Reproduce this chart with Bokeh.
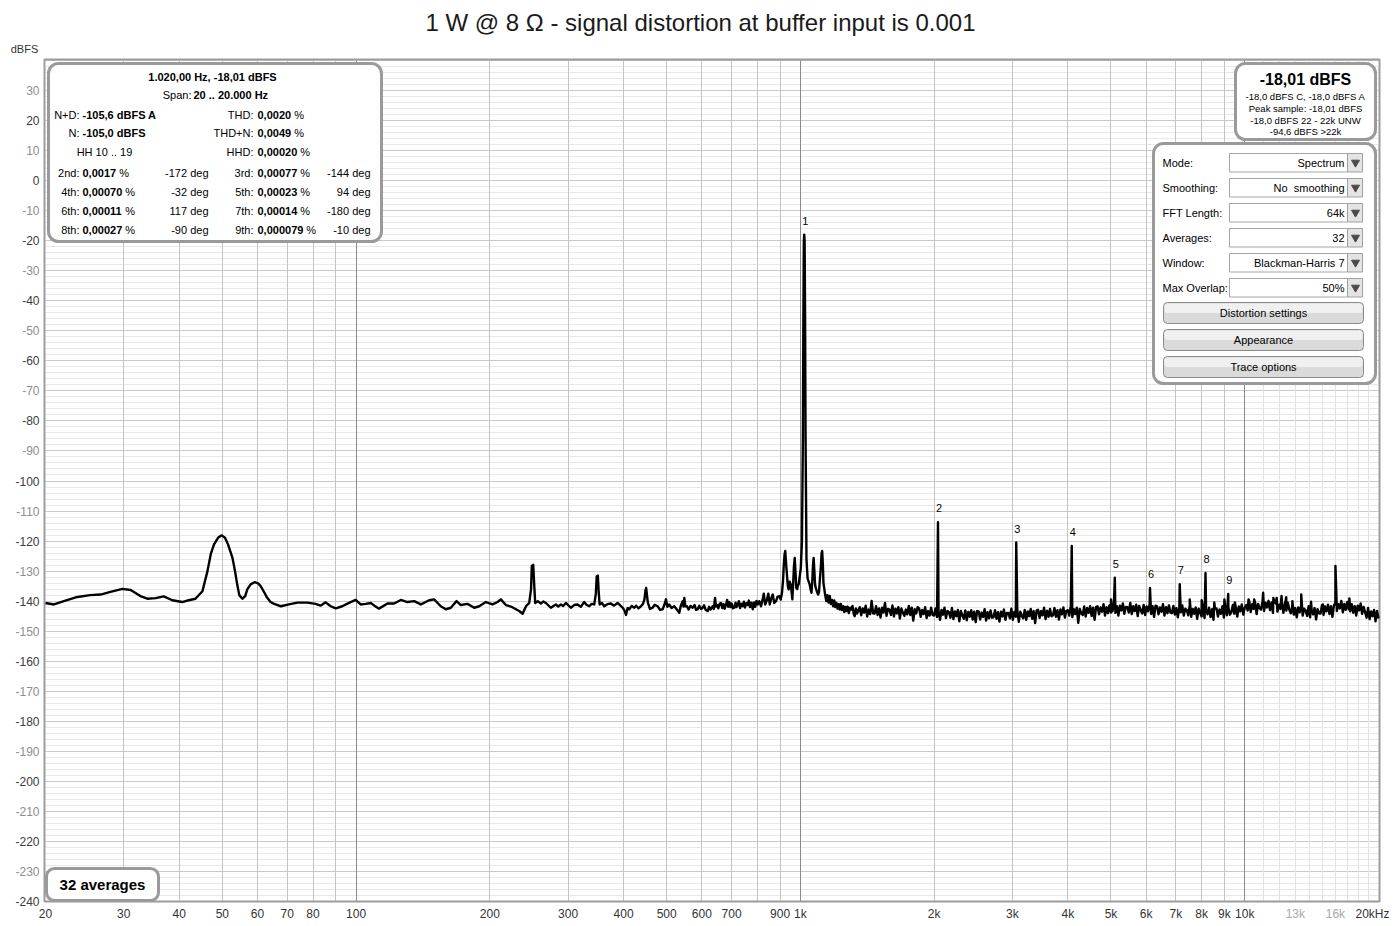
import numpy as np
from bokeh.plotting import figure
from bokeh.models import Range1d, LinearScale, Grid, FixedTicker, Label, BoxAnnotation
from bokeh.embed import file_html
from bokeh.resources import INLINE

TITLE = "1 W @ 8 \u03a9 - signal distortion at buffer input is 0.001"

# ---------------- trace data (Hz, dBFS) ----------------
LF_FREQ = [20.0, 20.9, 22.0, 23.6, 25.2, 26.6, 28.0, 29.8, 31.1, 32.7, 33.9, 35.4, 36.9, 38.6,
           40.6, 42.0, 43.5, 45.1, 46.3, 47.1, 47.9, 48.9, 49.8, 50.7, 51.5, 52.7, 53.4, 54.0,
           54.6, 55.5, 56.3, 56.9, 57.9, 59.1, 60.2, 61.0, 62.2, 63.1, 64.2, 65.4, 67.7, 70.6,
           73.8, 77.7, 81.1, 83.2, 85.4, 87.7, 90.0, 93.1, 96.4, 99.8, 102.4, 105.1, 107.9]
LF_LEVEL = [-140.6, -141.1, -140.0, -138.6, -138.0, -137.8, -136.9, -135.9, -136.3, -138.3,
            -139.2, -139.0, -138.4, -139.7, -140.3, -139.7, -139.2, -136.7, -130.0, -124.3,
            -121.1, -118.9, -118.1, -118.9, -121.1, -125.6, -130.0, -134.4, -138.0, -139.2,
            -138.3, -136.1, -134.4, -133.7, -134.1, -135.0, -137.2, -138.9, -140.3, -140.9,
            -141.7, -141.1, -140.5, -140.5, -140.9, -141.5, -140.4, -141.7, -142.4, -141.7,
            -140.6, -139.6, -141.1, -140.9, -140.6]

MID_FREQ = [110.0, 112.6, 117.7, 121.8, 126.1, 130.5, 135.1, 139.9, 146.1, 149.8, 155.1, 159.2,
            163.4, 168.3, 172.1, 178.2, 184.4, 189.3, 195.9, 202.8, 208.1, 211.8, 217.3, 223.1,
            229.0, 232.9, 237.0, 241.2, 245.3, 247.6, 248.6, 250.4, 251.6, 253.0, 256.5, 260.6,
            264.0, 267.3, 274.4, 281.6, 285.0, 289.1, 292.5, 296.6, 304.4, 309.5, 315.1, 320.5,
            326.1, 330.0, 334.8, 339.0, 343.6, 346.4, 348.0, 350.0, 351.6, 353.3, 357.5, 361.9,
            367.5, 374.6, 380.5, 387.9, 393.0, 398.1, 401.5, 405.0, 408.5, 412.0, 417.0, 422.7,
            427.0, 432.0, 437.7, 442.0, 445.6, 448.0, 449.6, 451.5, 453.6, 458.5, 464.9, 470.0,
            477.1, 483.0, 489.7, 494.0, 498.2, 502.0, 506.7, 513.0, 520.1, 526.0, 533.8, 538.0,
            543.3, 545.5, 547.9, 551.0, 555.6, 560.0, 566.0, 572.2, 578.0, 582.5, 587.3, 592.0,
            597.5, 602.7, 607.0, 612.0, 618.5, 623.0, 628.0, 634.8, 638.5, 642.5, 645.5, 649.2,
            653.5, 658.0, 662.8, 667.0, 671.0, 675.5, 680.2, 684.0, 688.0, 692.0, 696.0, 700.5,
            705.0, 710.2, 714.5, 718.5, 722.8, 727.0, 731.5, 736.5, 741.7, 746.0, 750.5, 755.5,
            761.2, 765.5, 770.0, 775.5, 781.2, 786.0, 791.5, 796.5, 801.7, 808.0, 815.5, 822.0,
            827.0, 833.0, 840.0, 846.9, 853.0, 860.0, 866.5, 873.0, 881.3, 888.0, 896.7, 903.0,
            909.0, 914.0, 917.5, 921.0, 924.5, 928.0, 932.5, 937.0, 941.0, 946.0, 951.0, 955.5,
            959.0, 963.0, 967.0, 971.0, 975.0, 979.0, 983.5, 987.0, 991.0, 996.0, 1002.0, 1008.0,
            1013.0, 1015.5, 1018.0, 1020.0, 1022.0, 1024.5, 1027.0, 1032.0, 1038.0, 1044.0,
            1049.0, 1054.0,
            1059.0, 1063.5, 1067.5, 1071.0, 1075.0, 1079.0, 1083.0, 1089.0, 1096.0, 1101.0,
            1105.5, 1112.5, 1116.0, 1119.5, 1123.5, 1127.0, 1131.0, 1137.0, 1144.0, 1150.0,
            1157.0, 1164.0, 1171.0, 1178.0, 1185.0, 1192.0, 1198.0, 1205.0, 1212.0, 1219.0,
            1226.0, 1233.0, 1240.0, 1248.0, 1255.0, 1262.0, 1269.0, 1277.0, 1285.0, 1294.0,
            1303.0, 1310.0, 1318.0, 1325.0, 1333.0, 1341.0, 1349.0]
MID_LEVEL = [-141.5, -142.5, -140.8, -140.8, -139.6, -140.3, -140.0, -141.1, -139.7, -139.4,
             -141.7, -142.7, -142.2, -140.0, -141.3, -140.9, -142.2, -141.7, -140.3, -141.1,
             -140.3, -139.4, -141.3, -141.8, -142.7, -143.3, -144.2, -141.7, -140.6, -136.0,
             -128.3, -127.9, -134.0, -140.6, -140.0, -140.8, -140.1, -140.6, -142.2, -141.1,
             -141.8, -141.1, -141.6, -140.6, -142.2, -141.3, -141.1, -141.9, -140.3, -141.2,
             -141.7, -140.9, -141.1, -137.5, -131.8, -131.5, -137.0, -141.1, -140.6, -141.7,
             -141.0, -140.8, -141.5, -140.6, -141.4, -142.2, -143.0, -144.6, -142.3, -142.7,
             -141.6, -142.2, -141.5, -142.4, -141.7, -141.0, -139.5, -136.5, -135.6, -138.0,
             -140.5, -142.6, -142.2, -141.2, -141.7, -142.9, -142.7, -141.3, -139.4, -141.9,
             -141.1, -142.3, -141.7, -142.6, -143.9, -141.5, -140.0, -141.8, -138.9, -141.7,
             -141.7, -142.8, -141.6, -142.2, -141.3, -142.9, -142.7, -141.5, -142.6, -142.2,
             -141.4, -142.9, -143.3, -141.9, -142.8, -141.7, -142.6, -138.9, -141.8, -141.3,
             -142.4, -140.9, -140.6, -142.3, -141.0, -142.5, -141.1, -139.6, -141.9, -140.3,
             -142.0, -140.8, -142.4, -142.2, -140.5, -142.0, -141.1, -140.0, -142.3, -140.9,
             -141.7, -140.2, -142.1, -140.7, -141.3, -139.8, -142.0, -140.5, -142.7, -140.4,
             -141.9, -139.9, -141.1, -140.0, -141.7, -139.5, -137.5, -141.1, -139.8, -137.5,
             -141.1, -139.0, -137.8, -140.6, -140.0, -138.6, -138.3, -139.5, -137.2, -133.0,
             -128.0, -124.5, -123.3, -127.0, -131.1, -135.0, -136.1, -133.5, -134.4, -137.0,
             -139.4, -134.5, -128.5, -125.6, -130.5, -135.6, -136.0, -134.8, -134.4, -132.0,
             -129.0, -120.0, -85.0, -45.0, -20.0, -18.0, -20.0, -45.0, -85.0, -126.0,
             -132.5, -133.5,
             -134.4, -136.0, -137.2, -133.5, -128.0, -125.6, -130.0, -134.5, -135.6, -136.8,
             -137.8, -137.0, -133.3, -128.0, -124.0, -123.3, -128.0, -134.0, -135.6, -138.0,
             -140.0, -138.0, -140.5, -138.3, -141.0, -139.6, -141.7, -139.8, -142.0, -140.6,
             -142.5, -141.0, -142.8, -140.9, -143.0, -141.7, -143.6, -141.9, -143.3, -141.8,
             -144.0, -142.2, -142.8, -141.6, -144.2, -145.0, -142.4, -144.1, -143.3]

HF_START, HF_STOP = 1360.0, 20000.0
HF_LEVEL = [
    -142.0, -144.7, -142.4, -143.8, -141.5, -145.1, -142.8, -144.3, -139.9, -144.1,
    -144.1, -141.7, -144.6, -142.4, -145.5, -142.2, -143.8, -140.6, -144.9, -142.6,
    -142.8, -144.6, -141.4, -145.1, -142.5, -144.1, -142.0, -145.8, -142.4, -143.8,
    -144.9, -142.8, -144.4, -141.6, -144.6, -142.2, -146.5, -142.7, -144.1, -142.0,
    -142.5, -145.2, -142.9, -144.3, -142.0, -145.6, -143.3, -144.8, -142.2, -144.6,
    -144.8, -142.4, -145.3, -143.1, -146.2, -142.9, -144.5, -142.2, -145.6, -143.3,
    -143.7, -145.5, -142.3, -146.0, -143.4, -145.0, -142.9, -146.7, -143.3, -144.7,
    -145.9, -143.1, -146.4, -143.6, -145.2, -143.0, -146.1, -143.5, -147.0, -143.3,
    -143.4, -146.1, -143.8, -145.2, -142.7, -146.5, -143.7, -145.7, -143.1, -145.5,
    -145.4, -143.0, -145.9, -143.7, -146.8, -143.5, -145.1, -142.8, -146.2, -143.9,
    -143.9, -145.7, -142.5, -146.2, -143.6, -145.2, -143.1, -146.9, -143.5, -144.9,
    -145.7, -142.9, -146.2, -143.4, -145.0, -142.6, -145.9, -143.3, -147.3, -143.1,
    -142.9, -145.6, -143.3, -144.7, -142.2, -146.0, -143.2, -145.2, -142.6, -145.0,
    -144.7, -142.3, -145.2, -143.0, -146.1, -142.8, -144.4, -142.1, -145.5, -143.2,
    -143.0, -144.8, -141.6, -145.3, -142.7, -144.3, -142.2, -147.2, -142.6, -144.0,
    -144.6, -141.8, -145.1, -142.3, -143.9, -141.7, -145.0, -142.2, -146.2, -142.0,
    -141.7, -144.4, -142.1, -143.5, -141.0, -144.8, -142.0, -144.0, -141.4, -143.8,
    -143.4, -141.0, -143.9, -141.7, -144.8, -141.5, -143.1, -140.8, -144.2, -141.9,
    -142.0, -143.8, -140.6, -144.3, -141.7, -143.3, -141.2, -145.0, -141.6, -143.0,
    -144.1, -141.3, -144.6, -141.8, -143.4, -141.2, -144.3, -141.7, -145.2, -141.5,
    -141.7, -144.4, -142.1, -143.5, -141.0, -144.8, -142.0, -144.0, -141.4, -143.8,
    -144.0, -141.6, -144.5, -142.3, -145.4, -142.1, -143.7, -141.4, -144.8, -142.5,
    -142.9, -144.7, -141.5, -145.2, -142.6, -144.2, -142.1, -145.9, -142.5, -143.9,
    -145.1, -142.3, -145.6, -142.8, -144.4, -142.2, -145.3, -142.7, -146.2, -142.5,
    -142.4, -145.1, -142.8, -144.2, -141.7, -145.5, -142.7, -144.7, -142.1, -144.5,
    -143.7, -141.3, -144.2, -142.0, -145.1, -141.8, -143.4, -141.1, -144.5, -142.2,
    -141.3, -143.1, -139.9, -143.6, -141.0, -142.6, -140.5, -144.3, -140.9, -142.3,
    -142.8, -140.0, -143.3, -140.5, -142.1, -139.9, -143.0, -140.4, -143.9, -140.2,
    -140.8, -143.5, -141.2, -142.6, -140.1, -143.9, -141.1, -143.1, -140.5, -142.9,
    -144.0, -141.6, -144.5, -142.3, -145.4, -142.1, -143.7, -141.4, -144.8, -142.5,
    -143.1, -144.9, -141.7, -145.4, -142.8, -144.4, -142.3, -146.1, -142.7, -144.1,
    -144.1, -141.3, -144.6, -141.8, -143.4, -141.2, -144.3, -141.7, -145.2, -141.5,
    -140.6, -143.3, -141.0, -142.4, -139.9, -143.7, -140.9, -142.9, -140.3, -142.7,
    -143.4, -141.0, -143.9, -141.7, -144.8, -141.5, -143.1, -140.8, -144.2, -141.9,
    -143.7, -145.5, -142.3, -146.0, -143.4, -145.0, -142.9, -146.7, -143.3, -145.8,
]

HARM_FREQ = [2040, 3060, 4080, 5100, 6120, 7140, 8160, 9180]
HARM_LEVEL = [-113.7, -120.5, -121.6, -132.2, -135.6, -134.4, -130.6, -137.6]
SPUR_FREQ = [5000, 7520, 8000, 8540, 9000, 9500, 10200, 10500, 11000, 11600, 11800, 12100,
             12400, 12800, 13400, 14100, 15000, 16000, 17200]
SPUR_LEVEL = [-139.4, -139.4, -139.7, -140.4, -139.4, -140.4, -139.4, -139.4, -137.2, -138.9,
              -138.9, -138.3, -138.7, -140.0, -137.8, -140.2, -141.1, -128.3, -139.1]
FUND_FREQ, FUND_LEVEL = 1020, -18.0

# ---------------- axis labels ----------------
F_MIN, F_MAX = 20, 20000
DB_MIN, DB_MAX = -240, 40
Y_TICKS = list(range(30, -250, -10))
X_TICK_FREQ = [20, 30, 40, 50, 60, 70, 80, 100, 200, 300, 400, 500, 600, 700, 900, 1000,
               2000, 3000, 4000, 5000, 6000, 7000, 8000, 9000, 10000, 13000, 16000, 20000]
X_TICK_TEXT = ["20", "30", "40", "50", "60", "70", "80", "100", "200", "300", "400", "500",
               "600", "700", "900", "1k", "2k", "3k", "4k", "5k", "6k", "7k", "8k", "9k", "10k",
               "13k", "16k", "20kHz"]
GRID_NORMAL = [30, 40, 50, 60, 70, 80, 90, 200, 300, 400, 500, 600, 700, 800, 900,
               2000, 3000, 4000, 5000, 6000, 7000, 8000, 9000]
GRID_DECADE = [100, 1000, 10000]
GRID_MINOR = [11000, 12000, 13000, 14000, 15000, 16000, 17000, 18000, 19000]

# ---------------- panel texts ----------------
STATS_HEAD = "1.020,00 Hz, -18,01 dBFS"
SPAN_LABEL, SPAN_VALUE = "Span:", "20 .. 20.000 Hz"
STATS_LEFT = [("N+D:", "-105,6 dBFS A"), ("N:", "-105,0 dBFS")]
STATS_RIGHT = [("THD:", "0,0020"), ("THD+N:", "0,0049"), ("HHD:", "0,00020")]
HARM_ROWS = [("2nd:", "0,0017", "-172 deg", "3rd:", "0,00077", "-144 deg"),
             ("4th:", "0,00070", "-32 deg", "5th:", "0,00023", "94 deg"),
             ("6th:", "0,00011", "117 deg", "7th:", "0,00014", "-180 deg"),
             ("8th:", "0,00027", "-90 deg", "9th:", "0,000079", "-10 deg")]
LEVEL_HEAD = "-18,01 dBFS"
LEVEL_LINES = ["-18,0 dBFS C, -18,0 dBFS A", "Peak sample: -18,01 dBFS",
               "-18,0 dBFS 22 - 22k UNW", "-94,6 dBFS >22k"]
CTRL_LABELS = ["Mode:", "Smoothing:", "FFT Length:", "Averages:", "Window:", "Max Overlap:"]
CTRL_VALUES = ["Spectrum", "No\u00a0 smoothing", "64k", "32", "Blackman-Harris 7", "50%"]
BUTTONS = ["Distortion settings", "Appearance", "Trace options"]
AVG_TEXT = "32 averages"

FONT = "Liberation Sans"

# ---------------- layout (canvas pixels) ----------------
W, H = 1400, 926
PL, PR, PT, PB = 45, 1378, 60, 901          # plot area edges
lg_per_px = (np.log10(F_MAX) - np.log10(F_MIN)) / (PR - PL)
db_per_px = (DB_MAX - DB_MIN) / (PB - PT)
x_lo = 10 ** (np.log10(F_MIN) - PL * lg_per_px)
x_hi = 10 ** (np.log10(F_MAX) + (W - PR) * lg_per_px)
y_hi = DB_MAX + PT * db_per_px
y_lo = DB_MIN - (H - PB) * db_per_px

p = figure(width=W, height=H, x_axis_type="log", x_range=Range1d(x_lo, x_hi),
           y_range=Range1d(y_lo, y_hi), output_backend="svg", toolbar_location=None,
           x_axis_location=None, y_axis_location=None,
           min_border_left=0, min_border_right=0, min_border_top=0, min_border_bottom=0,
           background_fill_color="white", border_fill_color="white")
p.outline_line_color = None
p.extra_x_ranges = {"px": Range1d(0, W)}
p.extra_y_ranges = {"px": Range1d(H, 0)}
p.extra_x_scales = {"px": LinearScale()}
p.extra_y_scales = {"px": LinearScale()}


def grid(dim, ticks, color, width=1):
    cb = (DB_MIN, DB_MAX) if dim == 0 else (F_MIN, F_MAX)
    p.add_layout(Grid(dimension=dim, ticker=FixedTicker(ticks=ticks), grid_line_color=color,
                      grid_line_width=width, cross_bounds=cb))


grid(1, [v for v in range(DB_MIN, DB_MAX + 1, 2) if v % 10 != 0], "#e9e9e9")
grid(1, list(range(DB_MIN, DB_MAX + 1, 10)), "#cacaca")
grid(0, GRID_MINOR, "#e2e2e2")
grid(0, GRID_NORMAL, "#c4c4c4")
grid(0, GRID_DECADE, "#8a8a8a")


def box(l, r, t, b, radius=0, lw=1, lc="#9a9a9a", fc="white", fa=1.0):
    p.add_layout(BoxAnnotation(left=l, right=r, top=t, bottom=b, x_range_name="px",
                               y_range_name="px", border_radius=radius, line_color=lc,
                               line_width=lw, line_alpha=1 if lc else 0, fill_color=fc,
                               fill_alpha=fa, level="underlay"))


def txt(x, y, s, size="11px", bold=False, align="left", color="#000000", xr="px", yr="px",
        **kw):
    p.add_layout(Label(x=x, y=y, text=s, x_range_name=xr, y_range_name=yr, text_font=FONT,
                       text_font_size=size, text_font_style="bold" if bold else "normal",
                       text_align=align, text_baseline="middle", text_color=color, **kw))


def bold_width(s, size=11):
    return sum(0.278 if c in ",. " else 0.556 for c in s) * size


# white margins around the plot area (hide grid lines outside it)
box(0, PL - 1, 0, H, lw=0, lc=None)
box(PR + 1, W, 0, H, lw=0, lc=None)
box(0, W, 0, PT - 1, lw=0, lc=None)
box(0, W, PB + 1, H, lw=0, lc=None)
# plot frame
box(PL - 1, PR + 1, PT - 1, PB, lw=2, lc="#9c9c9c", fc="white", fa=0.0)

# panels
box(48, 381, 63, 241, radius=10, lw=3)
box(1235, 1375, 63, 139, radius=10, lw=3)
box(1153, 1375, 143, 383, radius=10, lw=3)
box(46, 158, 868, 900, radius=8, lw=3)

ctrl_y = [162, 187, 212, 237, 262, 287]
for yy in ctrl_y:
    box(1229, 1347, yy - 9, yy + 9.5, lw=1, lc="#a6a6a6", fc="white")
    box(1347, 1362, yy - 9, yy + 9.5, lw=1, lc="#a0a0a0", fc="#e4e4e4")
btn_y = [312.5, 339.5, 366.5]
for yy in btn_y:
    box(1163, 1363, yy - 10.5, yy + 10.5, radius=4, lw=1, lc="#8a8a8a", fc="#dadada")
    box(1164, 1362, yy - 9.5, yy, radius=3, lw=0, lc=None, fc="#f0f0f0")

p.scatter(x=[1355] * len(ctrl_y), y=ctrl_y, marker="inverted_triangle", size=8,
          color="#4a4a4a", x_range_name="px", y_range_name="px")

# ---------------- trace ----------------
hf_freq = np.geomspace(HF_START, HF_STOP, len(HF_LEVEL))
freq = np.concatenate([LF_FREQ, MID_FREQ, hf_freq, HARM_FREQ, SPUR_FREQ])
lev = np.concatenate([LF_LEVEL, MID_LEVEL, HF_LEVEL, HARM_LEVEL, SPUR_LEVEL])
order = np.argsort(freq, kind="stable")
p.line(freq[order], lev[order], line_color="black", line_width=2.4, line_join="round")

# peak labels
pk_f = [FUND_FREQ] + HARM_FREQ
pk_l = [FUND_LEVEL] + HARM_LEVEL
for i, (f, l) in enumerate(zip(pk_f, pk_l)):
    txt(f, l, str(i + 1), xr="default", yr="default", align="center", y_offset=14, x_offset=1,
        background_fill_color="white")

# ---------------- axis texts ----------------
txt(700, 22, TITLE, size="24px", align="center", color="#1a1a1a")
txt(24, 48, "dBFS", color="#333333", align="center")
for v in Y_TICKS:
    txt(39, v, str(v), size="12px", xr="px", yr="default", align="right",
        color="#3c3c3c" if v % 20 == 0 else "#8e8e8e")
for f, s in zip(X_TICK_FREQ, X_TICK_TEXT):
    col = "#a8a8a8" if s in ("13k", "16k") else "#333333"
    off = -6 if s == "20kHz" else 0
    txt(f, 913, s, size="12px", xr="default", yr="px", align="center", color=col,
        x_offset=off)

# ---------------- stats panel texts ----------------
txt(212, 76, STATS_HEAD, bold=True, align="center")
txt(191, 94, SPAN_LABEL, align="right")
txt(193, 94, SPAN_VALUE, bold=True)
row_y = [114, 132, 151, 172, 191, 210, 229]
for (lab, val), yy in zip(STATS_LEFT, row_y):
    txt(79, yy, lab, align="right")
    txt(82, yy, val, bold=True)
txt(104, row_y[2], "HH 10 .. 19", align="center")
for (lab, val), yy in zip(STATS_RIGHT, row_y):
    txt(253, yy, lab, align="right")
    txt(257, yy, val, bold=True)
    txt(257 + bold_width(val) + 3, yy, "%")
for row, yy in zip(HARM_ROWS, row_y[3:]):
    l1, v1, d1, l2, v2, d2 = row
    txt(79, yy, l1, align="right")
    txt(82, yy, v1, bold=True)
    txt(82 + bold_width(v1) + 3, yy, "%")
    txt(208, yy, d1, align="right")
    txt(253, yy, l2, align="right")
    txt(257, yy, v2, bold=True)
    txt(257 + bold_width(v2) + 3, yy, "%")
    txt(370, yy, d2, align="right")

# ---------------- level panel ----------------
txt(1305, 79, LEVEL_HEAD, size="16px", bold=True, align="center")
for s, yy in zip(LEVEL_LINES, [96, 108, 120, 131]):
    txt(1305, yy, s, size="9.5px", align="center")

# ---------------- control panel ----------------
for lab, val, yy in zip(CTRL_LABELS, CTRL_VALUES, ctrl_y):
    txt(1162, yy, lab)
    txt(1344, yy, val, align="right")
for s, yy in zip(BUTTONS, btn_y):
    txt(1263, yy, s, align="center")

txt(102, 884, AVG_TEXT, size="15px", bold=True, align="center")

open("out.html", "w").write(file_html(p, INLINE))
